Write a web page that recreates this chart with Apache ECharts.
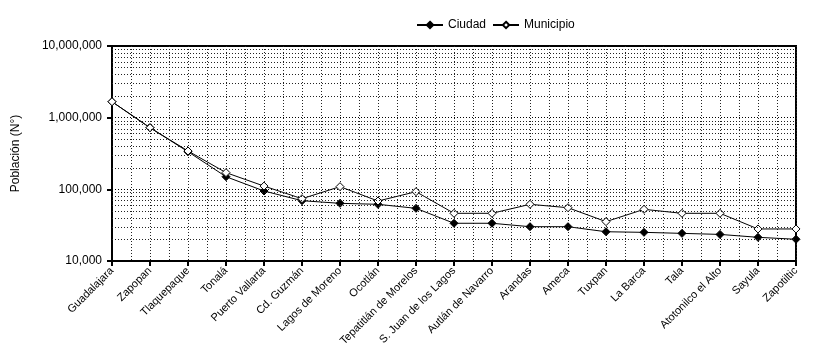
<!DOCTYPE html>
<html><head><meta charset="utf-8">
<script src="https://cdn.jsdelivr.net/npm/echarts@6/dist/echarts.min.js"></script>
<style>html,body{margin:0;padding:0;background:#fff}#c{width:831px;height:356px}</style>
</head><body><div id="c"></div>
<script>
const categories = ["Guadalajara","Zapopan","Tlaquepaque","Tonalá","Puerto Vallarta","Cd. Guzmán","Lagos de Moreno","Ocotlán","Tepatitlán de Morelos","S. Juan de los Lagos","Autlán de Navarro","Arandas","Ameca","Tuxpan","La Barca","Tala","Atotonilco el Alto","Sayula","Zapotiltic"];
const ciudad = [1670000, 724000, 335000, 150000, 94800, 69400, 63800, 61800, 54300, 33600, 33600, 30100, 30100, 25600, 25100, 24300, 23500, 21400, 20100];
const municipio = [1670000, 724000, 343000, 171000, 111000, 74000, 109000, 68700, 92700, 46300, 46300, 61800, 55400, 35400, 52600, 46300, 46300, 28000, 28000];
const yTicks = [10000, 100000, 1000000, 10000000];
const minorMults = [2,3,4,5,6,7,8,9];

const minorLines = [];
for (let d = 0; d < yTicks.length - 1; d++) {
  for (const m of minorMults) minorLines.push({yAxis: yTicks[d] * m});
}
const font = "'Liberation Sans', Arial, sans-serif";
const dot = [1, 2];
const chart = echarts.init(document.getElementById('c'));
chart.setOption({
  animation: false,
  textStyle: {fontFamily: font, color: '#000'},
  legend: {
    top: 14, left: 411, itemWidth: 26, itemHeight: 8, itemGap: 6,
    textStyle: {fontFamily: font, fontSize: 12, color: '#000'},
    data: ['Ciudad', 'Municipio']
  },
  grid: {left: 112, right: 35, top: 46, bottom: 95, show: true, borderColor: '#000', borderWidth: 2, backgroundColor: 'transparent'},
  xAxis: [{
    type: 'category', data: categories, boundaryGap: false,
    axisLine: {lineStyle: {color: '#000', width: 2}},
    axisTick: {show: true, length: 5, lineStyle: {color: '#000', width: 2}, alignWithLabel: true},
    axisLabel: {rotate: 45, interval: 0, fontSize: 11, color: '#000', fontFamily: font, margin: 8},
    splitLine: {show: false}
  }, {
    type: 'value', min: 0, max: categories.length - 1, interval: 0.5, position: 'bottom',
    axisLine: {show: false}, axisTick: {show: false}, axisLabel: {show: false},
    splitLine: {show: true, lineStyle: {color: '#222', width: 1, type: dot}}
  }],
  yAxis: {
    type: 'log', logBase: 10, min: yTicks[0], max: yTicks[yTicks.length - 1],
    name: 'Población (N°)', nameLocation: 'middle', nameGap: 90, nameRotate: 90,
    nameTextStyle: {fontSize: 12, color: '#000', fontFamily: font},
    axisLine: {show: true, lineStyle: {color: '#000', width: 2}},
    axisTick: {show: true, length: 5, lineStyle: {color: '#000', width: 2}},
    axisLabel: {fontSize: 12, color: '#000', fontFamily: font, margin: 10,
      formatter: v => Number(v).toLocaleString('en-US')},
    splitLine: {show: true, lineStyle: {color: '#000', width: 1, type: dot}}
  },
  series: [{
    name: 'Ciudad', type: 'line', data: ciudad, xAxisIndex: 0,
    symbol: 'diamond', symbolSize: 8, showAllSymbol: true,
    lineStyle: {color: '#000', width: 1},
    itemStyle: {color: '#000', borderColor: '#000', borderWidth: 1}
  }, {
    name: 'Municipio', type: 'line', data: municipio, xAxisIndex: 0,
    symbol: 'diamond', symbolSize: 8, showAllSymbol: true,
    lineStyle: {color: '#000', width: 1},
    itemStyle: {color: '#fff', borderColor: '#000', borderWidth: 1},
    markLine: {
      silent: true, symbol: 'none', label: {show: false}, animation: false,
      lineStyle: {color: '#222', width: 1, type: dot},
      data: minorLines
    }
  }]
});
</script></body></html>
